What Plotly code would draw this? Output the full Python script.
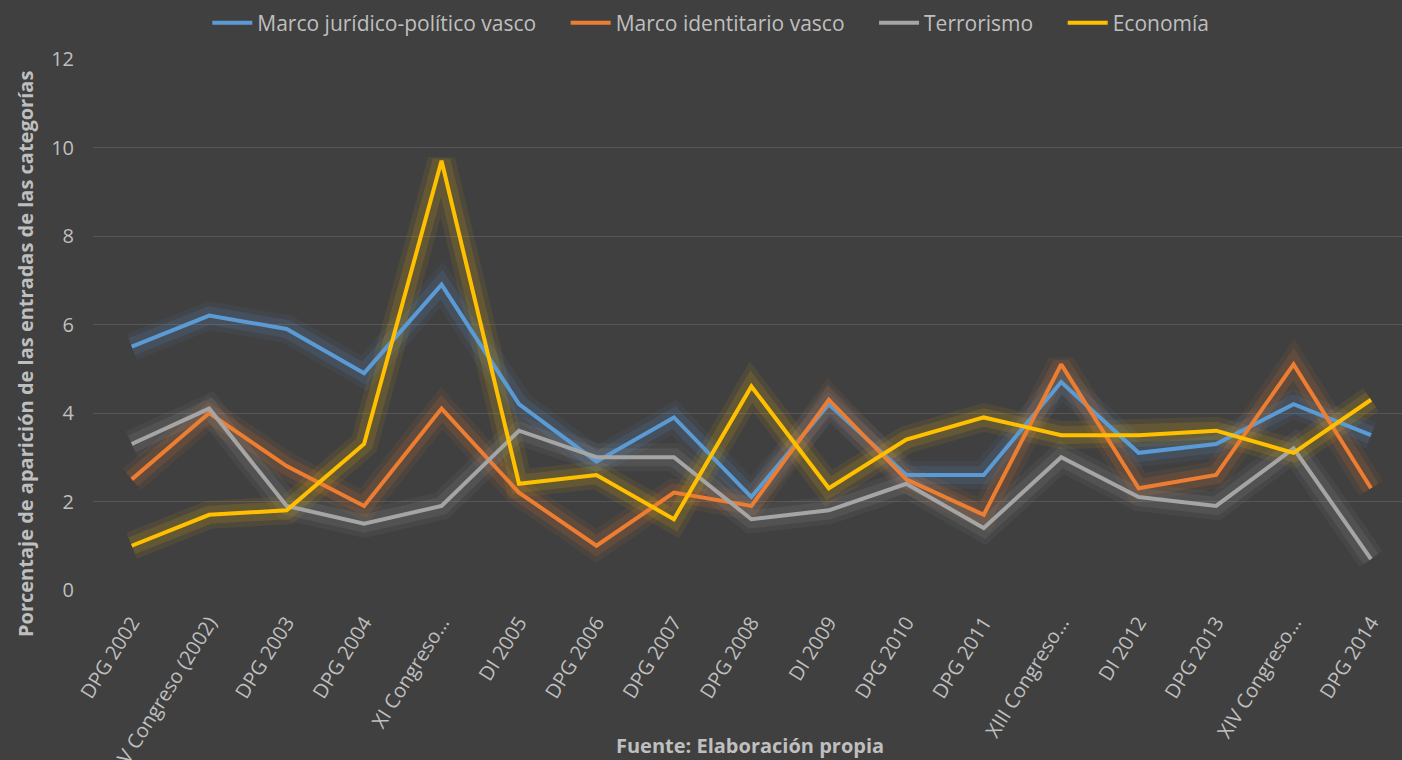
import plotly.graph_objects as go

categories = ["DPG 2002", "V Congreso (2002)", "DPG 2003", "DPG 2004", "XI Congreso…",
              "DI 2005", "DPG 2006", "DPG 2007", "DPG 2008", "DI 2009", "DPG 2010",
              "DPG 2011", "XIII Congreso…", "DI 2012", "DPG 2013", "XIV Congreso…", "DPG 2014"]

marco_juridico = [5.5, 6.2, 5.9, 4.9, 6.9, 4.2, 2.9, 3.9, 2.1, 4.2, 2.6, 2.6, 4.7, 3.1, 3.3, 4.2, 3.5]
marco_identitario = [2.5, 4.0, 2.8, 1.9, 4.1, 2.2, 1.0, 2.2, 1.9, 4.3, 2.5, 1.7, 5.1, 2.3, 2.6, 5.1, 2.3]
terrorismo = [3.3, 4.1, 1.9, 1.5, 1.9, 3.6, 3.0, 3.0, 1.6, 1.8, 2.4, 1.4, 3.0, 2.1, 1.9, 3.2, 0.7]
economia = [1.0, 1.7, 1.8, 3.3, 9.7, 2.4, 2.6, 1.6, 4.6, 2.3, 3.4, 3.9, 3.5, 3.5, 3.6, 3.1, 4.3]

series_names = ["Marco jurídico-político vasco", "Marco identitario vasco", "Terrorismo", "Economía"]
series_values = [marco_juridico, marco_identitario, terrorismo, economia]
colors = ["#5B9BD5", "#ED7D31", "#A5A5A5", "#FFC000"]

y_ticks = [0, 2, 4, 6, 8, 10, 12]

FONT = "Open Sans"
TEXT = "#BFBFBF"
BG = "#404040"

fig = go.Figure()

# glow layers (behind all lines)
for name, vals, col in zip(series_names, series_values, colors):
    for w, op in [(28, 0.07), (18, 0.12)]:
        fig.add_trace(go.Scatter(
            x=categories, y=vals, mode="lines",
            line=dict(color=col, width=w, shape="linear"),
            opacity=op, showlegend=False, hoverinfo="skip"))

pad = "\u2003\u2006"
for i, (name, vals, col) in enumerate(zip(series_names, series_values, colors)):
    label = name + (pad if i < len(series_names) - 1 else "")
    fig.add_trace(go.Scatter(
        x=categories, y=vals, mode="lines", name=label,
        line=dict(color=col, width=4)))

fig.update_layout(
    width=1402, height=760,
    paper_bgcolor=BG, plot_bgcolor=BG,
    margin=dict(l=93, r=0, t=59, b=170, autoexpand=False),
    font=dict(family=FONT, color=TEXT, size=19),
    showlegend=True,
    legend=dict(orientation="h", xref="container", yref="container",
                x=0.507, y=1 - 23 / 760, xanchor="center", yanchor="middle",
                font=dict(family=FONT, size=21, color=TEXT),
                bgcolor="rgba(0,0,0,0)", itemwidth=40, tracegroupgap=0),
    xaxis=dict(type="category", categoryorder="array", categoryarray=categories,
               range=[-0.5, 16.4], tickangle=-58, showgrid=False, zeroline=False,
               showline=False, ticks="", automargin=False, ticklabelstandoff=16,
               tickfont=dict(family=FONT, size=20, color=TEXT)),
    yaxis=dict(range=[0, 12], tickvals=y_ticks, showgrid=True,
               gridcolor="#565656", gridwidth=1, zeroline=False, showline=False,
               ticks="", ticklabelstandoff=18, automargin=False,
               tickfont=dict(family=FONT, size=20, color=TEXT)),
    annotations=[
        dict(text="<b>Porcentaje de aparición de las entradas de las categorías</b>",
             xref="paper", yref="paper", x=(25 - 93) / 1309, y=(590 - 354) / 531,
             textangle=-90, showarrow=False, xanchor="center", yanchor="middle",
             font=dict(family=FONT, size=20, color=TEXT)),
        dict(text="<b>Fuente: Elaboración propia</b>",
             xref="paper", yref="paper", x=(750 - 93) / 1309, y=-(745 - 590) / 531,
             showarrow=False, xanchor="center", yanchor="middle",
             font=dict(family=FONT, size=20, color=TEXT)),
    ],
)

fig.write_html("out.html", config={"displayModeBar": False},
               post_script="document.body.style.margin='0';")
